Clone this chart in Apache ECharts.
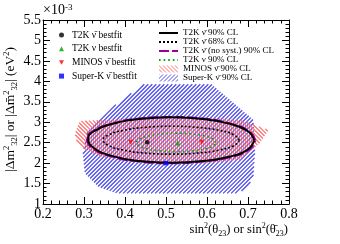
<!DOCTYPE html>
<html><head><meta charset="utf-8">
<script src="https://cdn.jsdelivr.net/npm/echarts@6/dist/echarts.min.js"></script>
<style>html,body{margin:0;padding:0;background:#fff}#c{width:340px;height:244px}</style>
</head><body><div id="c"></div>
<script>
// ---- data ----
const xTicks = [0.2, 0.3, 0.4, 0.5, 0.6, 0.7, 0.8];
const yTicks = [1, 1.5, 2, 2.5, 3, 3.5, 4, 4.5, 5, 5.5];

const t2kNubarBest = [[0.454, 2.51]];
const t2kNuBest = [[0.528, 2.49]];
const minosBest = [[0.414, 2.51], [0.587, 2.51]];
const superKBest = [[0.500, 2.00]];

const t2kNubar90 = [[0.715,2.56],[0.700,2.78],[0.656,2.96],[0.590,3.08],[0.513,3.12],[0.435,3.08],[0.370,2.96],[0.326,2.79],[0.310,2.60],[0.324,2.37],[0.370,2.17],[0.435,2.05],[0.513,2.01],[0.590,2.05],[0.656,2.16],[0.700,2.34],[0.715,2.56]];
const t2kNubar90NoSyst = [[0.718,2.56],[0.703,2.78],[0.658,2.965],[0.590,3.09],[0.513,3.13],[0.434,3.09],[0.368,2.965],[0.323,2.79],[0.307,2.60],[0.321,2.36],[0.368,2.16],[0.434,2.04],[0.513,1.995],[0.590,2.04],[0.658,2.15],[0.703,2.33],[0.718,2.56]];
const t2kNubar68 = [[0.679,2.56],[0.666,2.69],[0.630,2.80],[0.577,2.874],[0.513,2.90],[0.449,2.874],[0.396,2.80],[0.360,2.69],[0.347,2.57],[0.360,2.43],[0.396,2.32],[0.449,2.246],[0.513,2.22],[0.577,2.246],[0.630,2.32],[0.666,2.43],[0.679,2.56]];
const t2kNu90 = [[0.622,2.505],[0.615,2.59],[0.594,2.664],[0.562,2.713],[0.525,2.73],[0.488,2.713],[0.456,2.664],[0.435,2.59],[0.428,2.505],[0.435,2.42],[0.456,2.346],[0.488,2.297],[0.525,2.28],[0.562,2.297],[0.594,2.346],[0.615,2.42],[0.622,2.505]];
const minos90 = [[0.278,2.73],[0.290,3.03],[0.440,3.10],[0.600,3.10],[0.680,3.06],[0.750,2.81],[0.729,2.49],[0.713,2.35],[0.680,2.08],[0.600,2.00],[0.437,2.00],[0.339,2.16],[0.298,2.35],[0.282,2.53],[0.278,2.73]];
const superK90 = [[0.445,3.93],[0.611,3.93],[0.713,3.06],[0.717,2.24],[0.713,1.66],[0.697,1.38],[0.672,1.26],[0.380,1.26],[0.335,1.42],[0.302,1.75],[0.297,2.24],[0.307,2.73],[0.371,3.38],[0.445,3.93]];

const BLUE = '#4a4aee', RED = '#ff6f6f';
const DOWN_TRI = 'path://M0,0L10,0L5,9Z';

// legend-icon hatch patterns
function hatch(color, dir) {
  const n = 4, cv = document.createElement('canvas');
  cv.width = n; cv.height = n;
  const ctx = cv.getContext('2d');
  ctx.fillStyle = color;
  for (let i = 0; i < n; i++) ctx.fillRect(i, dir > 0 ? n - 1 - i : i, 1, 1);
  return { image: cv, repeat: 'repeat' };
}

// hatched polygon: diagonal lines clipped to the polygon (in pixel space)
function hatchRender(points, color, dir, step) {
  return function (params, api) {
    if (params.dataIndex !== 0) return null;
    const pts = points.map(p => api.coord(p));
    const f = (p, c) => (dir > 0 ? p[0] + p[1] : p[0] - p[1]) - c;
    let lo = Infinity, hi = -Infinity;
    pts.forEach(p => { const v = f(p, 0); lo = Math.min(lo, v); hi = Math.max(hi, v); });
    const children = [];
    for (let c = Math.ceil(lo / step) * step + 0.5; c < hi; c += step) {
      const xs = [];
      for (let i = 0; i < pts.length - 1; i++) {
        const a = pts[i], b = pts[i + 1];
        const fa = f(a, c), fb = f(b, c);
        if ((fa < 0) !== (fb < 0)) {
          const s = fa / (fa - fb);
          xs.push(a[0] + s * (b[0] - a[0]));
        }
      }
      xs.sort((u, v) => u - v);
      for (let k = 0; k + 1 < xs.length; k += 2) {
        const y1 = dir > 0 ? c - xs[k] : xs[k] - c;
        const y2 = dir > 0 ? c - xs[k + 1] : xs[k + 1] - c;
        children.push({ type: 'line', shape: { x1: xs[k], y1: y1, x2: xs[k + 1], y2: y2 },
          style: { stroke: color, lineWidth: 1.25 }, silent: true });
      }
    }
    return { type: 'group', children: children };
  };
}

const F = 'Liberation Serif';
const chart = echarts.init(document.getElementById('c'), null, { renderer: 'canvas' });

const baseAxis = {
  type: 'value',
  axisLine: { show: true, lineStyle: { color: '#000', width: 1 } },
  axisTick: { show: true, inside: true, length: 7, lineStyle: { color: '#000' } },
  minorTick: { show: true, splitNumber: 5, length: 3.5, lineStyle: { color: '#000' } },
  splitLine: { show: false }, minorSplitLine: { show: false }
};
const noSym = { opacity: 0 };

chart.setOption({
  animation: false,
  backgroundColor: '#fff',
  grid: { left: 43, right: 51, top: 20, bottom: 40 },
  xAxis: [
    Object.assign({}, baseAxis, { min: xTicks[0], max: xTicks[xTicks.length - 1], interval: 0.1, position: 'bottom',
      axisLabel: { margin: 3, fontFamily: F, fontSize: 14, color: '#000', formatter: v => v.toFixed(1) } }),
    Object.assign({}, baseAxis, { min: xTicks[0], max: xTicks[xTicks.length - 1], interval: 0.1, position: 'top',
      axisLabel: { show: false } })
  ],
  yAxis: [
    Object.assign({}, baseAxis, { min: yTicks[0], max: yTicks[yTicks.length - 1], interval: 0.5, position: 'left',
      axisLabel: { margin: 2, fontFamily: F, fontSize: 14, color: '#000', formatter: v => String(+v.toFixed(1)) } }),
    Object.assign({}, baseAxis, { min: yTicks[0], max: yTicks[yTicks.length - 1], interval: 0.5, position: 'right',
      axisLabel: { show: false } })
  ],
  legend: [
    { orient: 'vertical', left: 59, top: 30, padding: 0, itemGap: 3.7, itemWidth: 5, itemHeight: 5,
      textStyle: { fontFamily: F, fontSize: 9.5, lineHeight: 10, color: '#000', padding: [0, 0, 0, 3] },
      data: ['T2K ν\u0304 bestfit', 'T2K ν bestfit', 'MINOS ν\u0304 bestfit', 'Super-K ν\u0304 bestfit'] },
    { orient: 'vertical', left: 158, top: 28.5, padding: 0, itemGap: 0, itemWidth: 19, itemHeight: 7,
      textStyle: { fontFamily: F, fontSize: 9, lineHeight: 8.5, color: '#000' },
      data: [
        { name: 'T2K ν\u0304 90% CL', itemStyle: noSym },
        { name: 'T2K ν\u0304 68% CL', itemStyle: noSym },
        { name: 'T2K ν\u0304 (no syst.) 90% CL', itemStyle: noSym },
        { name: 'T2K ν 90% CL', itemStyle: noSym },
        { name: 'MINOS ν\u0304 90% CL', icon: 'rect' },
        { name: 'Super-K ν\u0304 90% CL', icon: 'rect' }] }
  ],
  series: [
    { name: 'Super-K ν\u0304 90% CL', type: 'custom', data: superK90, encode: { x: 0, y: 1 },
      itemStyle: { color: hatch(BLUE, 1) }, renderItem: hatchRender(superK90, BLUE, 1, 4), z: 1 },
    { name: 'MINOS ν\u0304 90% CL', type: 'custom', data: minos90, encode: { x: 0, y: 1 },
      itemStyle: { color: hatch(RED, -1) }, renderItem: hatchRender(minos90, RED, -1, 4), z: 1 },
    { name: 'T2K ν\u0304 (no syst.) 90% CL', type: 'line', data: t2kNubar90NoSyst, smooth: 0.5, symbol: 'none', z: 3,
      lineStyle: { color: '#990099', width: 2, type: [10, 3] }, itemStyle: { color: '#990099' } },
    { name: 'T2K ν\u0304 90% CL', type: 'line', data: t2kNubar90, smooth: 0.5, symbol: 'none', z: 3,
      lineStyle: { color: '#000', width: 2 }, itemStyle: { color: '#000' } },
    { name: 'T2K ν\u0304 68% CL', type: 'line', data: t2kNubar68, smooth: 0.5, symbol: 'none', z: 3,
      lineStyle: { color: '#000', width: 1.6, type: [2, 2] }, itemStyle: { color: '#000' } },
    { name: 'T2K ν 90% CL', type: 'line', data: t2kNu90, smooth: 0.5, symbol: 'none', z: 3,
      lineStyle: { color: '#00aa00', width: 1.6, type: [1.6, 3] }, itemStyle: { color: '#00aa00' } },
    { name: 'T2K ν\u0304 bestfit', type: 'scatter', data: t2kNubarBest, symbol: 'circle', symbolSize: 4.5, z: 5,
      itemStyle: { color: '#000' } },
    { name: 'T2K ν bestfit', type: 'scatter', data: t2kNuBest, symbol: 'triangle', symbolSize: 5, z: 5,
      itemStyle: { color: '#00a000' } },
    { name: 'MINOS ν\u0304 bestfit', type: 'scatter', data: minosBest, symbol: DOWN_TRI, symbolSize: 5, z: 5,
      itemStyle: { color: '#ff0000' } },
    { name: 'Super-K ν\u0304 bestfit', type: 'scatter', data: superKBest, symbol: 'rect', symbolSize: 4.5, z: 5,
      itemStyle: { color: '#0000ff' } }
  ],
  graphic: [
    { type: 'text', left: 43, top: 3, style: {
      text: '×10{s|-3}', fontFamily: F, fontSize: 14, fill: '#000',
      rich: { s: { fontFamily: F, fontSize: 9, verticalAlign: 'top', fill: '#000' } } } },
    { type: 'text', right: 52, top: 222, style: {
      text: 'sin{s|2}(θ{b|23}) or sin{s|2}(θ\u0304{b|23})', fontFamily: F, fontSize: 12.5, lineHeight: 16, fill: '#000',
      rich: {
        s: { fontFamily: F, fontSize: 8, verticalAlign: 'top', lineHeight: 16, fill: '#000' },
        b: { fontFamily: F, fontSize: 8, verticalAlign: 'bottom', lineHeight: 16, fill: '#000' } } } },
    { type: 'text', x: 2, y: 172, rotation: Math.PI / 2, style: {
      text: '|Δm{s|2}{b|32}| or |Δm\u0304{s|2}{b|32}| (eV{s|2})', fontFamily: F, fontSize: 13.5, lineHeight: 17, fill: '#000',
      rich: {
        s: { fontFamily: F, fontSize: 8.5, verticalAlign: 'top', lineHeight: 17, fill: '#000' },
        b: { fontFamily: F, fontSize: 8.5, verticalAlign: 'bottom', lineHeight: 17, fill: '#000' } } } }
  ]
});
</script></body></html>
